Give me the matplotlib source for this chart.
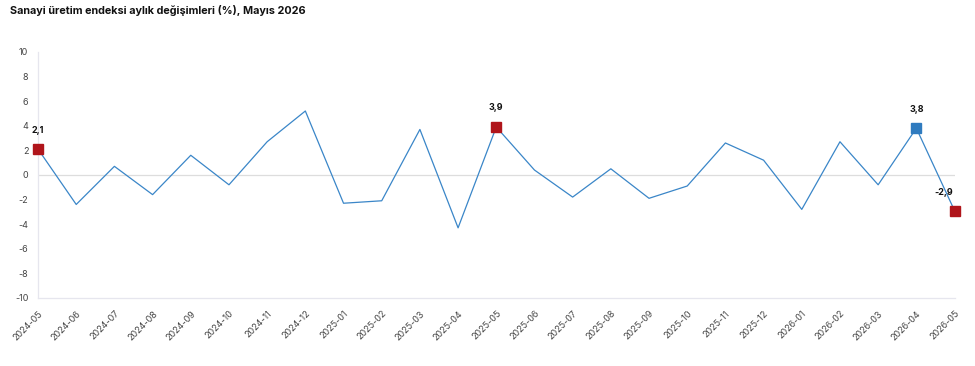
import matplotlib
matplotlib.use("Agg")
import matplotlib.pyplot as plt

plt.rcParams['font.family'] = ['Inter', 'DejaVu Sans']

months = ["2024-05", "2024-06", "2024-07", "2024-08", "2024-09", "2024-10", "2024-11", "2024-12",
          "2025-01", "2025-02", "2025-03", "2025-04", "2025-05", "2025-06", "2025-07", "2025-08",
          "2025-09", "2025-10", "2025-11", "2025-12", "2026-01", "2026-02", "2026-03", "2026-04",
          "2026-05"]
values = [2.1, -2.4, 0.7, -1.6, 1.6, -0.8, 2.7, 5.2, -2.3, -2.1, 3.7, -4.3, 3.9, 0.4, -1.8, 0.5,
          -1.9, -0.9, 2.6, 1.2, -2.8, 2.7, -0.8, 3.8, -2.9]
highlight_idx = [0, 12, 23, 24]
highlight_labels = ["2,1", "3,9", "3,8", "-2,9"]
highlight_colors = ["#B0151B", "#B0151B", "#2F7BBF", "#B0151B"]
yticks = [10, 8, 6, 4, 2, 0, -2, -4, -6, -8, -10]

fig = plt.figure(figsize=(9.75, 3.66), dpi=100)
ax = fig.add_axes([0.039, 0.186, 0.940, 0.672])

x = list(range(len(months)))
ax.axhline(0, color="#dddddd", lw=0.9, zorder=1)
ax.plot(x, values, color="#3A86C8", lw=0.9, zorder=2)

for i, lab, c in zip(highlight_idx, highlight_labels, highlight_colors):
    ax.plot([i], [values[i]], marker="s", ms=7.5, color=c, mec=c, zorder=3, clip_on=False)
    off = (-8, 9.5) if i == 24 else (0, 10.5)
    ax.annotate(lab, (i, values[i]), xytext=off, textcoords="offset points",
                ha="center", va="bottom", fontsize=6.5, fontweight="bold", color="#111111")

ax.set_xlim(0, len(months) - 1)
ax.set_ylim(-10, 10)
ax.set_yticks(yticks)
ax.set_yticklabels([str(t) for t in yticks])
ax.set_xticks(x)
ax.set_xticklabels(months, rotation=45, ha="right", rotation_mode="anchor")
ax.tick_params(axis="both", length=0, labelsize=6.5, colors="#444444")
ax.tick_params(axis="x", pad=8)
ax.tick_params(axis="y", pad=7)

for s in ["top", "right"]:
    ax.spines[s].set_visible(False)
for s in ["left", "bottom"]:
    ax.spines[s].set_color("#e6e6ee")
    ax.spines[s].set_linewidth(0.9)

fig.text(0.010, 0.985, "Sanayi üretim endeksi aylık değişimleri (%), Mayıs 2026",
         fontsize=7.8, fontweight="bold", color="#111111", ha="left", va="top")

fig.savefig("out.png", dpi=100, facecolor="white")
